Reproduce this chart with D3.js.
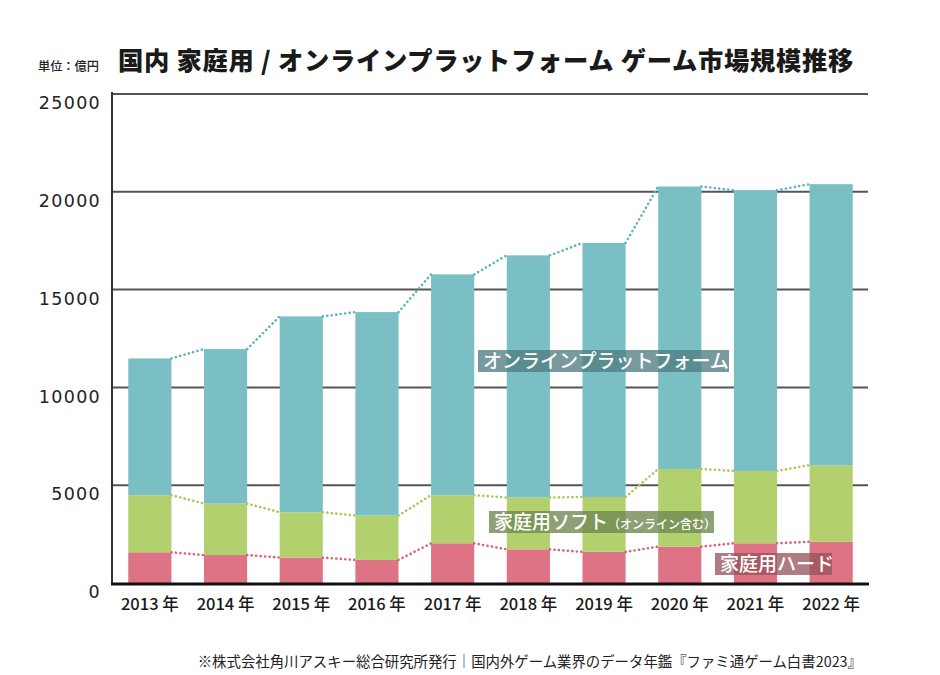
<!DOCTYPE html>
<html><head><meta charset="utf-8">
<script src="https://cdn.jsdelivr.net/npm/d3@7"></script>
<style>
html,body{margin:0;padding:0;background:#fff;}
svg{display:block;}
</style></head>
<body>
<svg id="chart" width="940" height="675"></svg>
<script>
const years = ["2013","2014","2015","2016","2017","2018","2019","2020","2021","2022"];
const hardValues = [1570, 1430, 1300, 1180, 2030, 1720, 1590, 1860, 2030, 2110];
const softValues = [2920, 2630, 2320, 2270, 2460, 2650, 2810, 3970, 3700, 3910];
const onlineValues = [6990, 7900, 10010, 10400, 11290, 12380, 12990, 14440, 14350, 14370];
const yTicks = [0, 5000, 10000, 15000, 20000, 25000];
const seriesNames = ["家庭用ハード", "家庭用ソフト", "オンラインプラットフォーム"];
const titleText = "国内 家庭用 / オンラインプラットフォーム ゲーム市場規模推移";
const unitText = "単位：億円";
const sourceText = "※株式会社角川アスキー総合研究所発行｜国内外ゲーム業界のデータ年鑑『ファミ通ゲーム白書2023』";

const svg = d3.select("#chart");
const JP = "'Noto Sans CJK JP','Noto Sans',sans-serif";

const x = d3.scaleBand().domain(years).range([112, 869]).paddingInner(0.43).paddingOuter(0.215);
const y = d3.scaleLinear().domain([0, 25000]).range([583, 94]);

const data = years.map((yr, i) => ({year: yr, hard: hardValues[i], soft: softValues[i], online: onlineValues[i]}));
const keys = ["hard", "soft", "online"];
const stack = d3.stack().keys(keys)(data);
const fills = {hard: "#dd7384", soft: "#b3d06f", online: "#79bfc3"};
const dots = {hard: "#da5f79", soft: "#a7c85a", online: "#5fb3ba"};

// gridlines
svg.append("g").selectAll("line").data(yTicks.filter(t => t > 0)).join("line")
  .attr("x1", 112).attr("x2", 868)
  .attr("y1", d => y(d)).attr("y2", d => y(d))
  .attr("stroke", "#555").attr("stroke-width", 2);

// y axis labels
const yAxis = d3.axisLeft(y).tickValues(yTicks).tickSize(0).tickPadding(0).tickFormat(d3.format("d"));
const gy = svg.append("g").attr("transform", "translate(100,9)").call(yAxis);
gy.select(".domain").remove();
gy.selectAll("text").attr("font-family", "'DejaVu Sans',sans-serif").attr("font-size", 17.5)
  .attr("fill", "#222").attr("letter-spacing", "1.3px").attr("dx", "1px");

// bars
svg.append("g").selectAll("g").data(stack).join("g")
  .attr("fill", d => fills[d.key])
  .selectAll("rect").data(d => d).join("rect")
  .attr("x", d => x(d.data.year))
  .attr("width", x.bandwidth())
  .attr("y", d => y(d[1]))
  .attr("height", d => y(d[0]) - y(d[1]));

// dotted connectors
stack.forEach(s => {
  const segs = d3.pairs(s);
  svg.append("g").selectAll("line").data(segs).join("line")
    .attr("x1", d => x(d[0].data.year) + x.bandwidth())
    .attr("y1", d => y(d[0][1]))
    .attr("x2", d => x(d[1].data.year))
    .attr("y2", d => y(d[1][1]))
    .attr("stroke", dots[s.key]).attr("stroke-width", 2.6)
    .attr("stroke-linecap", "round").attr("stroke-dasharray", "0.1,4.4");
});

// axis lines
svg.append("line").attr("x1", 112).attr("x2", 112).attr("y1", 92).attr("y2", 584)
  .attr("stroke", "#333").attr("stroke-width", 2);
svg.append("line").attr("x1", 111).attr("x2", 869).attr("y1", 584).attr("y2", 584)
  .attr("stroke", "#111").attr("stroke-width", 3);

// x axis labels
const xAxis = d3.axisBottom(x).tickSize(0).tickPadding(0).tickFormat(d => d + " 年");
const gx = svg.append("g").attr("transform", "translate(0,598)").call(xAxis);
gx.select(".domain").remove();
gx.selectAll("text").attr("font-family", JP).attr("font-size", 16.5).attr("fill", "#1a1a1a")
  .attr("font-weight", 500);

// series labels
function label(xp, yp, w, h, bg, parts) {
  const g = svg.append("g");
  g.append("rect").attr("x", xp).attr("y", yp).attr("width", w).attr("height", h).attr("fill", bg);
  const t = g.append("text").attr("x", xp + 5).attr("y", yp + h - 4.5)
    .attr("font-family", JP).attr("font-weight", 500).attr("fill", "#fff");
  parts.forEach(p => t.append("tspan").attr("font-size", p.size).text(p.text));
}
label(478, 350, 251, 22, "rgba(80,125,130,0.78)", [{text: seriesNames[2], size: 19}]);
label(489, 511, 225, 22, "rgba(110,135,80,0.78)", [{text: seriesNames[1], size: 19}, {text: "（オンライン含む）", size: 12}]);
label(715, 553, 117, 22, "rgba(150,80,90,0.75)", [{text: seriesNames[0], size: 19}]);

// title
svg.append("text").attr("x", 118).attr("y", 70).attr("font-family", JP).attr("font-weight", 900)
  .attr("font-size", 25.3).attr("fill", "#1a1a1a").attr("letter-spacing", "0.7px").text(titleText);
svg.append("text").attr("x", 38).attr("y", 71).attr("font-family", JP).attr("font-weight", 500)
  .attr("font-size", 12.2).attr("fill", "#222").text(unitText);

// source
svg.append("text").attr("x", 862).attr("y", 667).attr("text-anchor", "end").attr("font-family", JP)
  .attr("font-size", 14.4).attr("fill", "#222").text(sourceText);
</script>
</body></html>
